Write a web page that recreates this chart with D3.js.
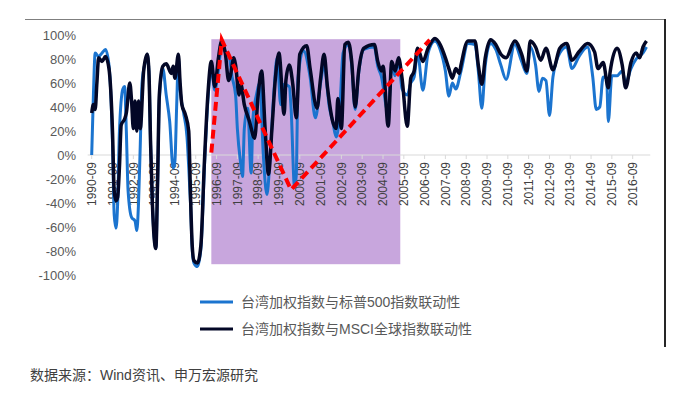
<!DOCTYPE html>
<html lang="zh">
<meta charset="utf-8">
<script src="https://d3js.org/d3.v7.min.js"></script>
<style>
  body { margin: 0; background: #fff; }
  text { font-family: "Liberation Sans", Arial, "Noto Sans CJK SC", sans-serif; }
</style>
<body>
<div id="my_dataviz"></div>
<script>
// 台湾加权指数与MSCI全球指数联动性
var msciDates = ["1990-09","1990-10","1990-11","1990-12","1991-01","1991-03","1991-05","1991-07","1991-09","1991-10","1991-11","1991-12",
  "1992-01","1992-02","1992-04","1992-05","1992-07","1992-08","1992-09","1992-10","1992-11","1992-12","1993-01","1993-03","1993-05","1993-06",
  "1993-07","1993-08","1993-10","1993-11","1993-12","1994-02","1994-04","1994-07","1994-08","1994-09","1994-11","1994-12","1995-01","1995-03",
  "1995-05","1995-06","1995-07","1995-08","1995-10","1995-12","1996-02","1996-04","1996-06","1996-08","1996-10","1996-12","1997-02","1997-04",
  "1997-05","1997-07","1997-08","1997-10","1997-11","1998-01","1998-04","1998-07","1998-09","1998-11","1999-01","1999-03","1999-05","1999-07",
  "1999-09","1999-12","2000-01","2000-03","2000-05","2000-07","2000-09","2001-01","2001-03","2001-07","2001-09","2001-11","2002-01","2002-04",
  "2002-06","2002-07","2002-09","2002-11","2003-01","2003-03","2003-05","2003-07","2003-10","2004-04","2004-06","2004-08","2004-09","2004-12",
  "2005-02","2005-04","2005-06","2005-08","2005-11","2006-01","2006-03","2006-05","2006-08","2006-11","2007-03","2007-06","2007-09","2007-11",
  "2008-01","2008-03","2008-05","2008-06","2008-10","2009-02","2009-04","2009-06","2009-08","2009-11","2010-02","2010-05","2010-08","2011-01",
  "2011-05","2011-08","2011-10","2012-01","2012-04","2012-07","2012-11","2013-03","2013-07","2013-10","2014-02","2014-07","2014-11","2015-01",
  "2015-04","2015-07","2015-08","2015-12","2016-03","2016-05","2016-08","2016-11","2017-01","2017-03","2017-05"];
var msciValues = [35,42,38,60,81,78,82,72,20,-30,-38,-35,
  -10,25,30,35,60,45,22,45,20,45,22,70,84,70,
  9,-40,-78,-20,50,74,76,68,74,64,84,60,42,34,
  20,-33,-75,-88,-90,-75,-5,50,78,57,80,95,85,62,
  66,81,75,50,59,42,28,14,50,70,22,-16,22,64,
  85,34,62,75,59,31,84,91,72,39,64,84,56,28,
  22,47,22,92,94,78,40,70,89,92,78,70,74,24,
  78,70,81,64,24,64,70,89,78,89,97,92,81,72,
  64,72,68,75,95,95,75,59,81,96,92,84,81,95,
  84,70,95,90,79,89,71,89,93,79,86,93,86,72,
  77,56,69,89,75,56,77,85,81,90,95];

// 台湾加权指数与标普500指数联动性
var spDates = ["1990-09","1990-10","1990-11","1991-01","1991-03","1991-05","1991-07","1991-09","1991-10","1991-11","1991-12","1992-01",
  "1992-03","1992-04","1992-05","1992-06","1992-08","1992-10","1992-11","1992-12","1993-01","1993-02","1993-04","1993-05","1993-06","1993-07",
  "1993-08","1993-10","1993-11","1993-12","1994-02","1994-04","1994-06","1994-08","1994-09","1994-10","1994-11","1994-12","1995-02","1995-04",
  "1995-05","1995-06","1995-07","1995-08","1995-10","1995-12","1996-02","1996-04","1996-06","1996-08","1996-10","1996-12","1997-02","1997-04",
  "1997-06","1997-08","1997-09","1997-11","1997-12","1998-01","1998-03","1998-05","1998-06","1998-08","1998-10","1998-12","1999-02","1999-04",
  "1999-06","1999-08","1999-10","1999-12","2000-03","2000-04","2000-06","2000-07","2000-08","2000-11","2001-03","2001-06","2001-09","2001-11",
  "2002-02","2002-04","2002-06","2002-08","2002-10","2003-01","2003-03","2003-05","2003-07","2003-10","2004-04","2004-06","2004-08","2004-12",
  "2005-02","2005-04","2005-06","2005-08","2005-11","2006-01","2006-03","2006-05","2006-08","2006-11","2007-03","2007-06","2007-09","2007-11",
  "2008-01","2008-03","2008-06","2008-10","2009-02","2009-04","2009-06","2009-08","2009-11","2010-02","2010-05","2010-08","2011-01","2011-05",
  "2011-08","2011-10","2012-01","2012-03","2012-05","2012-07","2012-09","2012-11","2013-03","2013-07","2013-10","2014-02","2014-07","2014-10",
  "2014-12","2015-02","2015-04","2015-06","2015-07","2015-09","2015-12","2016-03","2016-05","2016-08","2016-11","2017-03","2017-05"];
var spValues = [0,50,85,82,85,88,75,10,-50,-61,-40,20,
  55,57,20,-30,-52,-55,-63,-40,9,60,78,84,70,9,
  -40,-78,-25,45,72,50,28,-11,-5,40,80,55,35,15,
  -10,-40,-78,-90,-93,-78,-10,45,72,54,70,92,86,84,
  65,50,22,-8,-18,22,39,-15,30,50,60,0,-33,0,
  50,81,42,59,57,39,-27,-17,64,87,65,31,60,75,
  40,28,15,35,85,92,75,38,68,88,90,74,66,35,
  75,66,80,55,50,60,65,85,54,85,95,88,70,49,
  60,55,70,93,92,70,39,75,93,88,75,63,92,78,
  68,90,75,53,64,62,33,65,85,90,72,82,90,65,
  38,40,65,64,28,66,66,70,60,72,80,85,90];

// 红色虚线 and 紫色区间
var trendDates = ["1996-06","1996-12","2000-04","2006-12"];
var trendValues = [2, 96, -29, 96];
var shadeRange = ["1996-06","2005-07"];
var shadeValues = [96.5, -91];

var yTicks = [100,80,60,40,20,0,-20,-40,-60,-80,-100];
var xTickYears = d3.range(1990, 2017);

var seriesNames = ["台湾加权指数与标普500指数联动性", "台湾加权指数与MSCI全球指数联动性"];
var sourceText = "数据来源：Wind资讯、申万宏源研究";

var W = 683, H = 394;
var parse = d3.timeParse("%Y-%m");

var svg = d3.select("#my_dataviz")
  .append("svg")
    .attr("width", W)
    .attr("height", H);

var x = d3.scaleTime()
    .domain([parse("1990-09"), parse("2016-09")])
    .range([91.7, 632.7]);
var y = d3.scaleLinear()
    .domain([-100, 100])
    .range([275, 35]);

// frame lines
svg.append("line")
    .attr("x1", 25).attr("x2", 665).attr("y1", 19.5).attr("y2", 19.5)
    .attr("stroke", "#7f7f7f").attr("stroke-width", 1);
svg.append("line")
    .attr("x1", 665).attr("x2", 665).attr("y1", 19).attr("y2", 347)
    .attr("stroke", "#262626").attr("stroke-width", 2);

// y axis labels
svg.append("g").selectAll("text")
  .data(yTicks)
  .enter()
  .append("text")
    .attr("x", 76)
    .attr("y", function(d) { return y(d); })
    .attr("dy", "0.35em")
    .attr("text-anchor", "end")
    .style("font-size", "13px")
    .style("fill", "#595959")
    .text(function(d) { return d + "%"; });

// shaded period
svg.append("rect")
    .attr("x", x(parse(shadeRange[0])))
    .attr("width", x(parse(shadeRange[1])) - x(parse(shadeRange[0])))
    .attr("y", y(shadeValues[0]))
    .attr("height", y(shadeValues[1]) - y(shadeValues[0]))
    .style("fill", "#c8a6dd");

// zero line with ticks
var x0 = x(parse("1990-09")) - 4, x1 = x(parse("2017-06")) + 2;
svg.append("line")
    .attr("x1", x0).attr("x2", x1).attr("y1", y(0)).attr("y2", y(0))
    .attr("stroke", "#d9d9d9").attr("stroke-width", 1);

var xAxis = svg.append("g");
xAxis.selectAll("line")
  .data(xTickYears)
  .enter()
  .append("line")
    .attr("x1", function(d) { return x(parse(d + "-09")); })
    .attr("x2", function(d) { return x(parse(d + "-09")); })
    .attr("y1", y(0)).attr("y2", y(0) + 4)
    .attr("stroke", "#d9d9d9");
xAxis.selectAll("text")
  .data(xTickYears)
  .enter()
  .append("text")
    .attr("transform", function(d) { return "translate(" + x(parse(d + "-09")) + "," + (y(0) + 7) + ") rotate(-90)"; })
    .attr("dy", "0.35em")
    .attr("text-anchor", "end")
    .style("font-size", "12px")
    .style("fill", "#404040")
    .text(function(d) { return d + "-09"; });

var line = d3.line()
    .x(function(d) { return x(d[0]); })
    .y(function(d) { return y(d[1]); })
    .curve(d3.curveMonotoneX);

function pairs(dates, vals) {
  return dates.map(function(d, i) { return [parse(d), vals[i]]; });
}

svg.append("path")
    .datum(pairs(spDates, spValues))
    .attr("d", line)
    .attr("fill", "none")
    .attr("stroke", "#1b74cf")
    .attr("stroke-width", 3)
    .attr("stroke-linejoin", "round");

svg.append("path")
    .datum(pairs(msciDates, msciValues))
    .attr("d", line)
    .attr("fill", "none")
    .attr("stroke", "#030726")
    .attr("stroke-width", 3.5)
    .attr("stroke-linejoin", "round");

// red dashed trend
svg.append("path")
    .datum(pairs(trendDates, trendValues))
    .attr("d", d3.line().x(function(d) { return x(d[0]); }).y(function(d) { return y(d[1]); }))
    .attr("fill", "none")
    .attr("stroke", "#ff0000")
    .attr("stroke-width", 4)
    .attr("stroke-dasharray", "9,5");

// legend
var legendColors = ["#1b74cf", "#030726"];
var legend = svg.append("g").selectAll("g")
  .data(seriesNames)
  .enter()
  .append("g")
    .attr("transform", function(d, i) { return "translate(200," + (302 + i * 27) + ")"; });
legend.append("line")
    .attr("x1", 0).attr("x2", 33)
    .attr("stroke", function(d, i) { return legendColors[i]; })
    .attr("stroke-width", 3);
legend.append("text")
    .attr("x", 41)
    .attr("dy", "0.35em")
    .style("font-size", "14px")
    .style("fill", "#595959")
    .text(function(d) { return d; });

svg.append("text")
    .attr("x", 30)
    .attr("y", 375)
    .attr("dy", "0.35em")
    .style("font-size", "14px")
    .style("fill", "#404040")
    .text(sourceText);
</script>
</body>
</html>
